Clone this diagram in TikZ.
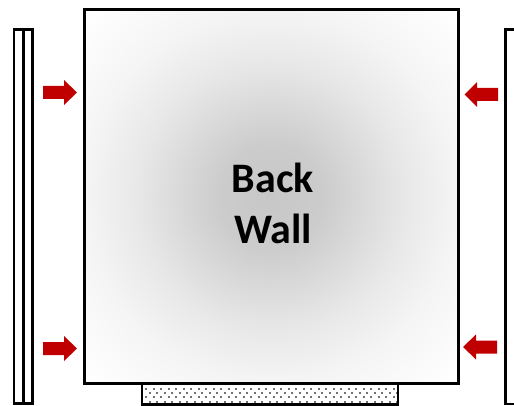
\documentclass[tikz,border=0pt]{standalone}
\usepackage{fontspec}
\setmainfont{Carlito}
\definecolor{arrowred}{HTML}{C00000}
\pgfdeclareradialshading{wallglow}{\pgfpoint{0bp}{0bp}}{%
  color(0bp)=(black!22);
  color(7bp)=(black!20);
  color(13bp)=(black!14);
  color(18bp)=(black!9);
  color(25bp)=(black!4);
  color(35bp)=(white);
  color(50bp)=(white)}
\tikzset{
  outline/.style={draw=black,line width=2.25pt,line join=miter},
  thinoutline/.style={draw=black,line width=1.9pt,line join=miter},
  redarrow/.style={fill=arrowred,draw=none},
  stripdot/.style={fill=black!55,draw=none},
  walltext/.style={font=\bfseries\fontsize{31.5pt}{36pt}\selectfont,text=black,inner sep=0pt,anchor=center}
}
\begin{document}
\begin{tikzpicture}[x=0.75pt,y=-0.75pt]
\useasboundingbox (0,0) rectangle (514,406);
% left panel
\draw[thinoutline] (14,29.5) rectangle (32.5,403.5);
\draw[thinoutline,line width=2.6pt] (23.5,29.5) -- (23.5,403.5);
% right panel
\draw[thinoutline] (520,29.5) -- (505.5,29.5) -- (505.5,404) -- (520,404);
% bottom strip dots
\begin{scope}
\clip (143,384) rectangle (397,404);
\foreach \r in {0,1,2,3}{
  \pgfmathsetmacro{\yy}{388.5+4.4*\r}
  \pgfmathsetmacro{\off}{mod(\r,2)*3.75}
  \foreach \c in {0,...,34}{
    \pgfmathsetmacro{\xx}{146+\off+7.5*\c}
    \fill[stripdot] (\xx-1,\yy-1) rectangle (\xx+1,\yy+1);
  }
}
\end{scope}
\draw[thinoutline] (142,384) -- (142,405.5);
\draw[thinoutline] (398,384) -- (398,405.5);
\draw[thinoutline] (142,404.5) -- (398,404.5);
% wall
\shade[shading=wallglow] (84,9.5) rectangle (458,383);
\draw[outline] (84,9.5) rectangle (458,383);
% arrows
\fill[redarrow] (43,86) -- (64,86) -- (64,80) -- (77,92.5) -- (64,105) -- (64,99) -- (43,99) -- cycle;
\fill[redarrow] (43,342) -- (64,342) -- (64,336) -- (77,348.5) -- (64,361) -- (64,355) -- (43,355) -- cycle;
\fill[redarrow] (498,88) -- (477,88) -- (477,82) -- (464.5,94.5) -- (477,107) -- (477,101) -- (498,101) -- cycle;
\fill[redarrow] (497,340.5) -- (476,340.5) -- (476,334.5) -- (463,347) -- (476,359.5) -- (476,353.5) -- (497,353.5) -- cycle;
% text
\node[walltext] (back) at (273,178) {Back};
\node[walltext] (wall) at (273,229) {Wall};
\end{tikzpicture}
\end{document}
